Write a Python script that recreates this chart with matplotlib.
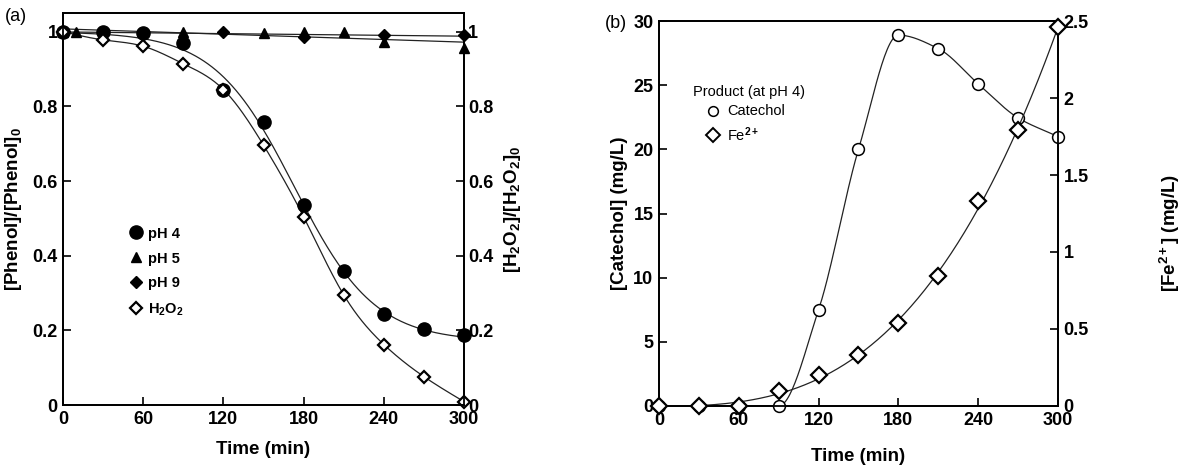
import numpy as np
import matplotlib
matplotlib.use("Agg")
import matplotlib.pyplot as plt

plt.rcParams['font.family'] = ['Liberation Sans', 'DejaVu Sans']
plt.rcParams['font.weight'] = 'bold'
plt.rcParams['axes.labelweight'] = 'bold'
plt.rcParams['mathtext.fontset'] = 'custom'
plt.rcParams['mathtext.rm'] = 'Liberation Sans:bold'
plt.rcParams['mathtext.bf'] = 'Liberation Sans:bold'
plt.rcParams['mathtext.it'] = 'Liberation Sans:bold'
plt.rcParams['mathtext.default'] = 'rm'

# ---- data, panel (a) ----
t_full = [0, 30, 60, 90, 120, 150, 180, 210, 240, 270, 300]
ph4 = [1.0, 0.998, 0.997, 0.97, 0.845, 0.757, 0.535, 0.358, 0.243, 0.204, 0.188]
h2o2 = [1.0, 0.978, 0.961, 0.914, 0.845, 0.696, 0.504, 0.295, 0.162, 0.076, 0.009]
t_ph5 = [0, 10, 90, 150, 180, 210, 240, 300]
ph5 = [1.0, 1.0, 0.999, 0.997, 0.999, 0.998, 0.972, 0.955]
t_ph9 = [0, 30, 60, 120, 180, 240, 300]
ph9 = [1.0, 0.998, 0.997, 0.998, 0.986, 0.991, 0.99]

# ---- data, panel (b) ----
catechol = [0, 0, 0, 0, 7.5, 20.0, 28.9, 27.85, 25.1, 22.45, 21.0]
fe2 = [0, 0, 0, 0.1, 0.2, 0.328, 0.537, 0.844, 1.33, 1.79, 2.46]

x_ticks = [0, 60, 120, 180, 240, 300]
a_ticks = [0, 0.2, 0.4, 0.6, 0.8, 1.0]
a_labels = ['0', '0.2', '0.4', '0.6', '0.8', '1']
b_left_ticks = [0, 5, 10, 15, 20, 25, 30]
b_right_ticks = [0, 0.5, 1, 1.5, 2, 2.5]
b_right_labels = ['0', '0.5', '1', '1.5', '2', '2.5']


def pchip(x, y, n=300):
    x = np.asarray(x, float)
    y = np.asarray(y, float)
    h = np.diff(x)
    d = np.diff(y) / h
    m = np.zeros_like(y)
    for k in range(1, len(x) - 1):
        if d[k - 1] * d[k] > 0:
            w1 = 2 * h[k] + h[k - 1]
            w2 = h[k] + 2 * h[k - 1]
            m[k] = (w1 + w2) / (w1 / d[k - 1] + w2 / d[k])
    m[0] = d[0]
    m[-1] = d[-1]
    xs = np.linspace(x[0], x[-1], n)
    idx = np.clip(np.searchsorted(x, xs) - 1, 0, len(x) - 2)
    s = (xs - x[idx]) / h[idx]
    ys = ((2 * s**3 - 3 * s**2 + 1) * y[idx] + (s**3 - 2 * s**2 + s) * h[idx] * m[idx]
          + (-2 * s**3 + 3 * s**2) * y[idx + 1] + (s**3 - s**2) * h[idx] * m[idx + 1])
    return xs, ys


def natural_spline(x, y, n=300):
    x = np.asarray(x, float)
    y = np.asarray(y, float)
    N = len(x)
    h = np.diff(x)
    A = np.zeros((N, N))
    r = np.zeros(N)
    A[0, 0] = A[-1, -1] = 1
    for i in range(1, N - 1):
        A[i, i - 1] = h[i - 1]
        A[i, i] = 2 * (h[i - 1] + h[i])
        A[i, i + 1] = h[i]
        r[i] = 6 * ((y[i + 1] - y[i]) / h[i] - (y[i] - y[i - 1]) / h[i - 1])
    M = np.linalg.solve(A, r)
    xs = np.linspace(x[0], x[-1], n)
    i = np.clip(np.searchsorted(x, xs) - 1, 0, N - 2)
    a = x[i + 1] - xs
    b = xs - x[i]
    ys = (M[i] * a**3 / (6 * h[i]) + M[i + 1] * b**3 / (6 * h[i])
          + (y[i] / h[i] - M[i] * h[i] / 6) * a + (y[i + 1] / h[i] - M[i + 1] * h[i] / 6) * b)
    return xs, ys


def logistic_fit(x, y, n=300):
    # brute-force least squares for y = c + (1 - c) / (1 + exp((t - t0) / w))
    x = np.asarray(x, float)
    y = np.asarray(y, float)
    best = None
    for c in np.linspace(0.1, 0.25, 31):
        for t0 in np.linspace(140, 200, 61):
            for w in np.linspace(10, 50, 41):
                f = c + (1 - c) / (1 + np.exp((x - t0) / w))
                e = np.sum((f - y) ** 2)
                if best is None or e < best[0]:
                    best = (e, c, t0, w)
    _, c, t0, w = best
    xs = np.linspace(x[0], x[-1], n)
    return xs, c + (1 - c) / (1 + np.exp((xs - t0) / w))


fig = plt.figure(figsize=(11.82, 4.68), dpi=100)
ax1 = fig.add_axes([0.0533, 0.1346, 0.3393, 0.8376])
ax2 = fig.add_axes([0.5575, 0.1325, 0.3376, 0.8226])

lc = '#222222'
lw_curve = 0.9
tick_kw = dict(direction='in', length=6, width=1.2, labelsize=13)

# ---- panel (a) ----
xs, ys = logistic_fit(t_full, ph4)
ax1.plot(xs, ys, color=lc, lw=lw_curve)
xs, ys = natural_spline(t_full, h2o2)
ax1.plot(xs, ys, color=lc, lw=lw_curve)
tl = np.linspace(0, 300, 50)
ax1.plot(tl, np.polyval(np.polyfit(t_ph5, ph5, 1), tl), color=lc, lw=lw_curve)
ax1.plot(tl, np.polyval(np.polyfit(t_ph9, ph9, 1), tl), color=lc, lw=lw_curve)

ax1.plot(t_full, ph4, 'o', color='black', ms=9.5, label='pH 4', clip_on=False, zorder=5)
ax1.plot(t_ph5, ph5, '^', color='black', ms=7.5, label='pH 5', clip_on=False, zorder=5)
ax1.plot(t_ph9, ph9, 'D', color='black', ms=6.5, label='pH 9', clip_on=False, zorder=5)
ax1.plot(t_full, h2o2, 'D', mfc='white', mec='black', mew=1.6, ms=6,
         label='H$_2$O$_2$', clip_on=False, zorder=5)

ax1.set_xlim(0, 300)
ax1.set_ylim(0, 1.05)
ax1.set_xticks(x_ticks)
ax1.set_yticks(a_ticks)
ax1.set_yticklabels(a_labels)
ax1.tick_params(axis='both', pad=4, **tick_kw)
ax1.set_xlabel('Time (min)', fontsize=13.5, labelpad=10)
ax1.set_ylabel('[Phenol]/[Phenol]$_0$', fontsize=13.5, labelpad=6)
ax1r = ax1.twinx()
ax1r.set_ylim(0, 1.05)
ax1r.set_yticks(a_ticks)
ax1r.set_yticklabels(a_labels)
ax1r.tick_params(axis='y', pad=3, **tick_kw)
ax1r.set_ylabel('[H$_2$O$_2$]/[H$_2$O$_2$]$_0$', fontsize=13.5, labelpad=6)
for ax in (ax1, ax1r):
    for sp in ax.spines.values():
        sp.set_linewidth(1.3)
ax1.legend(loc='upper left', bbox_to_anchor=(0.15, 0.47), frameon=False,
           fontsize=10.5, handletextpad=0.3, labelspacing=0.75, handlelength=1.0,
           borderaxespad=0)
fig.text(0.004, 0.955, '(a)', fontsize=13, fontweight='normal')

# ---- panel (b) ----
ax2r = ax2.twinx()
xs, ys = pchip(t_full, catechol)
ax2.plot(xs, ys, color=lc, lw=lw_curve)
xs = np.linspace(0, 300, 300)
ys = np.maximum(np.polyval(np.polyfit(t_full, fe2, 3), xs), 0)
ax2r.plot(xs, ys, color=lc, lw=lw_curve)
ax2.plot(t_full, catechol, 'o', mfc='white', mec='black', mew=1.1, ms=8.5,
         clip_on=False, zorder=5)
ax2r.plot(t_full, fe2, 'D', mfc='white', mec='black', mew=1.6, ms=8,
          clip_on=False, zorder=6)

ax2.set_xlim(0, 300)
ax2.set_ylim(0, 30)
ax2.set_xticks(x_ticks)
ax2.set_yticks(b_left_ticks)
ax2.tick_params(axis='both', pad=4, **tick_kw)
ax2.set_xlabel('Time (min)', fontsize=13.5, labelpad=14)
ax2.set_ylabel('[Catechol] (mg/L)', fontsize=13.5, labelpad=4)
ax2r.set_ylim(0, 2.5)
ax2r.set_yticks(b_right_ticks)
ax2r.set_yticklabels(b_right_labels)
ax2r.tick_params(axis='y', pad=4, **tick_kw)
ax2r.set_ylabel('[Fe$^{2+}$] (mg/L)', fontsize=13.5)
ax2r.yaxis.set_label_coords(1.25, 0.45)
for ax in (ax2, ax2r):
    for sp in ax.spines.values():
        sp.set_linewidth(1.3)

ax2.text(0.085, 0.815, 'Product (at pH 4)', transform=ax2.transAxes,
         fontsize=10.5, fontweight='normal', va='center')
ax2.plot([0.135], [0.765], 'o', mfc='white', mec='black', mew=1.1, ms=7,
         transform=ax2.transAxes, clip_on=False)
ax2.text(0.17, 0.765, 'Catechol', transform=ax2.transAxes,
         fontsize=10.5, fontweight='normal', va='center')
ax2.plot([0.135], [0.705], 'D', mfc='white', mec='black', mew=1.4, ms=7,
         transform=ax2.transAxes, clip_on=False)
ax2.text(0.17, 0.705, 'Fe$^{2+}$', transform=ax2.transAxes,
         fontsize=10.5, fontweight='normal', va='center')
fig.text(0.512, 0.94, '(b)', fontsize=13, fontweight='normal')

fig.savefig('out.png', dpi=100)
